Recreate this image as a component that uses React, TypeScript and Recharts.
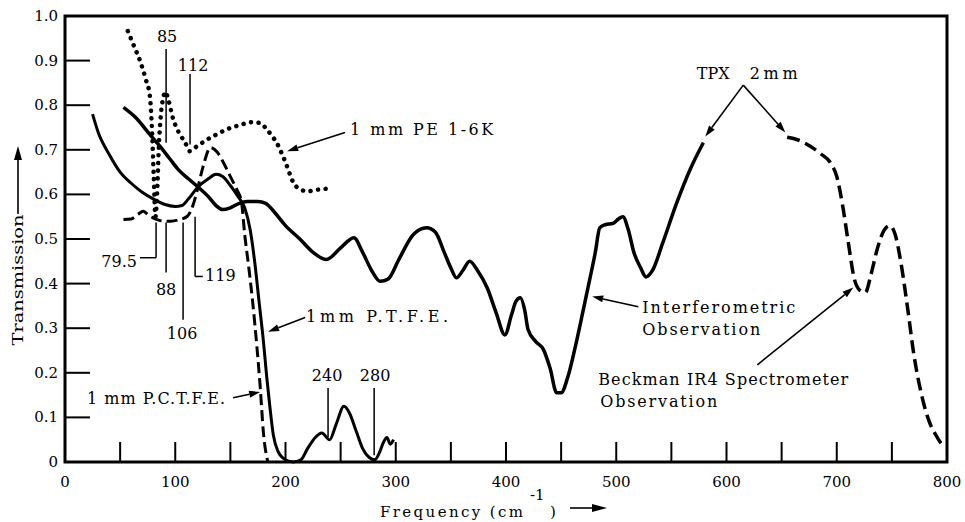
import { LineChart, Line, XAxis, YAxis, ReferenceArea, ReferenceLine, ReferenceDot } from 'recharts';

const FONT = '"DejaVu Serif", "Liberation Serif", serif';

// axis ticks
const freqTicks = [0, 50, 100, 150, 200, 250, 300, 350, 400, 450, 500, 550, 600, 650, 700, 750, 800];
const transTicks = [0, 0.1, 0.2, 0.3, 0.4, 0.5, 0.6, 0.7, 0.8, 0.9, 1.0];

// Interferometric observation (solid)
const interFreq = [53, 65, 75, 86, 95, 103, 112, 120, 130, 137, 143, 150, 158, 165, 175, 182, 190, 200, 213, 225, 237, 250, 262, 270, 278, 286, 293, 303, 316, 328, 336, 344, 350, 355, 361, 367, 374, 383, 391, 399, 405, 409, 413, 417, 420, 427, 434, 440, 446, 450, 456, 463, 470, 476, 481, 485, 490, 497, 502, 506, 511, 516, 522, 527, 533, 542, 555, 567, 579];
const interTrans = [0.795, 0.77, 0.74, 0.708, 0.68, 0.655, 0.635, 0.618, 0.595, 0.575, 0.566, 0.57, 0.58, 0.584, 0.584, 0.58, 0.56, 0.53, 0.5, 0.47, 0.454, 0.48, 0.503, 0.47, 0.43, 0.405, 0.41, 0.455, 0.51, 0.525, 0.515, 0.47, 0.435, 0.413, 0.43, 0.45, 0.43, 0.39, 0.335, 0.285, 0.33, 0.36, 0.368, 0.34, 0.297, 0.27, 0.252, 0.21, 0.155, 0.155, 0.19, 0.26, 0.34, 0.41, 0.47, 0.525, 0.532, 0.535, 0.545, 0.55, 0.52, 0.47, 0.436, 0.415, 0.43, 0.49, 0.582, 0.656, 0.716];

// Beckman IR4 spectrometer observation (dashed)
const beckFreq = [655, 665, 676, 686, 694, 700, 705, 710, 716, 721, 726, 731, 737, 743, 748, 753, 758, 764, 770, 777, 784, 790, 795];
const beckTrans = [0.728, 0.722, 0.708, 0.69, 0.672, 0.64, 0.58, 0.5, 0.41, 0.385, 0.38, 0.42, 0.48, 0.52, 0.53, 0.51, 0.45, 0.35, 0.24, 0.15, 0.09, 0.06, 0.04];

// 1 mm P.T.F.E.
const ptfeFreq = [25, 30, 40, 50, 60, 70, 80, 90, 100, 106, 112, 120, 130, 137, 143, 150, 157, 163, 168, 172, 176, 180, 183, 186, 189, 193, 200, 207, 214, 220, 227, 233, 240, 246, 253, 258, 264, 270, 276, 281, 285, 289, 292, 295, 298];
const ptfeTrans = [0.78, 0.74, 0.69, 0.65, 0.625, 0.605, 0.59, 0.578, 0.573, 0.575, 0.59, 0.615, 0.635, 0.645, 0.64, 0.62, 0.595, 0.57, 0.52, 0.45, 0.36, 0.27, 0.19, 0.12, 0.06, 0.025, 0.005, 0, 0.005, 0.03, 0.055, 0.065, 0.05, 0.085, 0.125, 0.11, 0.07, 0.03, 0.01, 0.005, 0.02, 0.045, 0.055, 0.04, 0.05];

// 1 mm P.C.T.F.E.
const pctfeFreq = [53, 60, 66, 71, 76, 83, 90, 96, 103, 111, 116, 120, 125, 132, 138, 144, 150, 156, 160, 163, 167, 170, 174, 177, 180, 184];
const pctfeTrans = [0.544, 0.545, 0.555, 0.562, 0.553, 0.544, 0.54, 0.54, 0.543, 0.551, 0.575, 0.61, 0.66, 0.705, 0.695, 0.67, 0.64, 0.61, 0.584, 0.51, 0.43, 0.364, 0.26, 0.17, 0.065, 0];

// 1 mm PE 1-6K (dotted)
const peFreq = [57, 63, 68, 73, 77, 79, 80.5, 82, 83.5, 85, 87, 89, 91, 94, 98, 103, 109, 113, 118, 124, 129, 138, 147, 158, 170, 177, 183, 188, 192, 196, 200, 204, 207, 213, 220, 227, 235, 243];
const peTrans = [0.966, 0.93, 0.9, 0.86, 0.82, 0.74, 0.64, 0.55, 0.6, 0.7, 0.78, 0.815, 0.83, 0.81, 0.77, 0.74, 0.716, 0.697, 0.705, 0.715, 0.723, 0.735, 0.746, 0.755, 0.762, 0.76, 0.746, 0.73, 0.716, 0.695, 0.672, 0.645, 0.627, 0.612, 0.607, 0.61, 0.612, 0.615];

const rows = (xs: number[], ys: number[]) => xs.map((x, i) => ({ x, y: ys[i] }));

// text annotations, in data coordinates
const notes = [
  { x: 92.6, y: 0.953, text: '85', anchor: 'middle' },
  { x: 116.2, y: 0.89, text: '112', anchor: 'middle' },
  { x: 65.3, y: 0.449, text: '79.5', anchor: 'end' },
  { x: 91.7, y: 0.387, text: '88', anchor: 'middle' },
  { x: 106.2, y: 0.288, text: '106', anchor: 'middle' },
  { x: 127, y: 0.418, text: '119', anchor: 'start' },
  { x: 237.7, y: 0.193, text: '240', anchor: 'middle' },
  { x: 281.3, y: 0.193, text: '280', anchor: 'middle' },
  { x: 258.6, y: 0.746, text: '1 mm PE 1-6K', anchor: 'start', len: 143 },
  { x: 218.7, y: 0.326, text: '1mm P.T.F.E.', anchor: 'start', len: 142 },
  { x: 20, y: 0.142, text: '1 mm P.C.T.F.E.', anchor: 'start', len: 138 },
  { x: 523.6, y: 0.346, text: 'Interferometric', anchor: 'start', len: 153 },
  { x: 523.6, y: 0.297, text: 'Observation', anchor: 'start', len: 118 },
  { x: 483.7, y: 0.184, text: 'Beckman IR4 Spectrometer', anchor: 'start', len: 250 },
  { x: 485.5, y: 0.135, text: 'Observation', anchor: 'start', len: 117 },
  { x: 573, y: 0.87, text: 'TPX', anchor: 'start', len: 33 },
  { x: 621, y: 0.87, text: '2mm', anchor: 'start', len: 48 },
];

// plain leader lines [x1, y1, x2, y2]
const leaders = [
  [91.7, 0.926, 91.7, 0.716],
  [113.4, 0.87, 113.4, 0.712],
  [82.6, 0.537, 82.6, 0.458],
  [82.6, 0.458, 68, 0.458],
  [91.7, 0.537, 91.7, 0.425],
  [107.1, 0.537, 107.1, 0.319],
  [118, 0.55, 118, 0.416],
  [118, 0.416, 125, 0.416],
  [238.6, 0.166, 238.6, 0.056],
  [280.4, 0.166, 280.4, 0.015],
];

// arrows [fromX, fromY, toX, toY]
const arrows = [
  [254, 0.739, 201.5, 0.697],
  [217.8, 0.324, 184.2, 0.292],
  [152.5, 0.144, 177, 0.157],
  [520, 0.348, 478.2, 0.371],
  [628, 0.218, 715, 0.391],
  [615.2, 0.845, 580.8, 0.73],
  [615.2, 0.845, 653.4, 0.739],
];

const Arrow = (p: any) => {
  const { x1, y1, x2, y2 } = p;
  const a = Math.atan2(y2 - y1, x2 - x1);
  const L = 11;
  const W = 3.5;
  const bx = x2 - L * Math.cos(a);
  const by = y2 - L * Math.sin(a);
  const ox = -Math.sin(a) * W;
  const oy = Math.cos(a) * W;
  return (
    <g>
      <line x1={x1} y1={y1} x2={bx} y2={by} stroke="#000" strokeWidth={1.6} />
      <polygon points={`${x2},${y2} ${bx + ox},${by + oy} ${bx - ox},${by - oy}`} fill="#000" />
    </g>
  );
};

const XTick = (props: any) => {
  const { x, y, payload } = props;
  const v = payload.value;
  return (
    <g>
      {v > 0 && v < 800 && <line x1={x} y1={y} x2={x} y2={y - 20} stroke="#000" strokeWidth={2} />}
      {v % 100 === 0 && (
        <text x={x} y={y + 20} textAnchor="middle" dominantBaseline="central" fontFamily={FONT} fontSize={15} fill="#000">
          {v}
        </text>
      )}
    </g>
  );
};

const YTick = (props: any) => {
  const { x, y, payload } = props;
  const v = payload.value;
  return (
    <g>
      {v > 0 && v < 1 && <line x1={x} y1={y} x2={x + 25} y2={y} stroke="#000" strokeWidth={2} />}
      <text x={x - 7} y={y} textAnchor="end" dominantBaseline="central" fontFamily={FONT} fontSize={15} fill="#000">
        {v === 0 ? '0' : v.toFixed(1)}
      </text>
    </g>
  );
};

const YTitle = ({ viewBox }: any) => {
  const cx = viewBox.x + 18;
  const cy = viewBox.y + 264;
  return (
    <g transform={`translate(${cx},${cy}) rotate(-90)`}>
      <text x={0} y={0} textAnchor="middle" dominantBaseline="central" fontFamily={FONT} fontSize={15} fill="#000" textLength={131} lengthAdjust="spacingAndGlyphs">
        Transmission
      </text>
      <line x1={66} y1={0} x2={122} y2={0} stroke="#000" strokeWidth={1.6} />
      <polygon points="134,0 120,-4 120,4" fill="#000" />
    </g>
  );
};

const XTitle = ({ viewBox }: any) => {
  const bx = viewBox.x + 315;
  const by = viewBox.y + 55;
  return (
    <g fontFamily={FONT} fontSize={15} fill="#000">
      <text x={bx} y={by} textLength={143} lengthAdjust="spacing">Frequency (cm</text>
      <text x={bx + 150} y={by - 17}>-1</text>
      <text x={bx + 170} y={by}>)</text>
      <line x1={bx + 190} y1={by - 9} x2={bx + 215} y2={by - 9} stroke="#000" strokeWidth={1.6} />
      <polygon points={`${bx + 227},${by - 9} ${bx + 212},${by - 13} ${bx + 212},${by - 5}`} fill="#000" />
    </g>
  );
};

export default function App() {
  return (
    <div style={{ position: 'absolute', left: 0, top: 0 }}>
      <LineChart width={965} height={522} margin={{ top: 16, right: 18, bottom: 0, left: 0 }}>
        <XAxis
          type="number"
          dataKey="x"
          domain={[0, 800]}
          ticks={freqTicks}
          interval={0}
          axisLine={false}
          tickLine={false}
          tickSize={0}
          tickMargin={0}
          height={60}
          tick={XTick}
          label={(p: any) => <XTitle {...p} />}
        />
        <YAxis
          type="number"
          dataKey="y"
          domain={[0, 1]}
          ticks={transTicks}
          interval={0}
          axisLine={false}
          tickLine={false}
          tickSize={0}
          tickMargin={0}
          width={65}
          tick={YTick}
          label={(p: any) => <YTitle {...p} />}
        />
        <Line data={rows(interFreq, interTrans)} dataKey="y" type="monotone" stroke="#000" strokeWidth={3.5} dot={false} isAnimationActive={false} />
        <Line data={rows(beckFreq, beckTrans)} dataKey="y" type="monotone" stroke="#000" strokeWidth={3.5} strokeDasharray="13 6" dot={false} isAnimationActive={false} />
        <Line data={rows(ptfeFreq, ptfeTrans)} dataKey="y" type="monotone" stroke="#000" strokeWidth={3} dot={false} isAnimationActive={false} />
        <Line data={rows(pctfeFreq, pctfeTrans)} dataKey="y" type="monotone" stroke="#000" strokeWidth={3} strokeDasharray="11 5" dot={false} isAnimationActive={false} />
        <Line data={rows(peFreq, peTrans)} dataKey="y" type="monotone" stroke="#000" strokeWidth={4.5} strokeDasharray="0.1 7.5" strokeLinecap="round" dot={false} isAnimationActive={false} />
        {leaders.map((s, i) => (
          <ReferenceLine key={'l' + i} segment={[{ x: s[0], y: s[1] }, { x: s[2], y: s[3] }]} stroke="#000" strokeWidth={1.5} ifOverflow="visible" />
        ))}
        {arrows.map((s, i) => (
          <ReferenceLine key={'a' + i} segment={[{ x: s[0], y: s[1] }, { x: s[2], y: s[3] }]} ifOverflow="visible" shape={Arrow} />
        ))}
        {notes.map((n, i) => (
          <ReferenceDot
            key={'n' + i}
            x={n.x}
            y={n.y}
            r={1}
            ifOverflow="visible"
            shape={(p: any) => (
              <text
                x={p.cx}
                y={p.cy}
                textAnchor={n.anchor as any}
                dominantBaseline="central"
                fontFamily={FONT}
                fontSize={16}
                fill="#000"
                textLength={n.len}
                lengthAdjust={n.len ? 'spacing' : undefined}
              >
                {n.text}
              </text>
            )}
          />
        ))}
        <ReferenceArea x1={0} x2={800} y1={0} y2={1} fill="none" stroke="#000" strokeWidth={3} ifOverflow="visible" />
      </LineChart>
    </div>
  );
}
